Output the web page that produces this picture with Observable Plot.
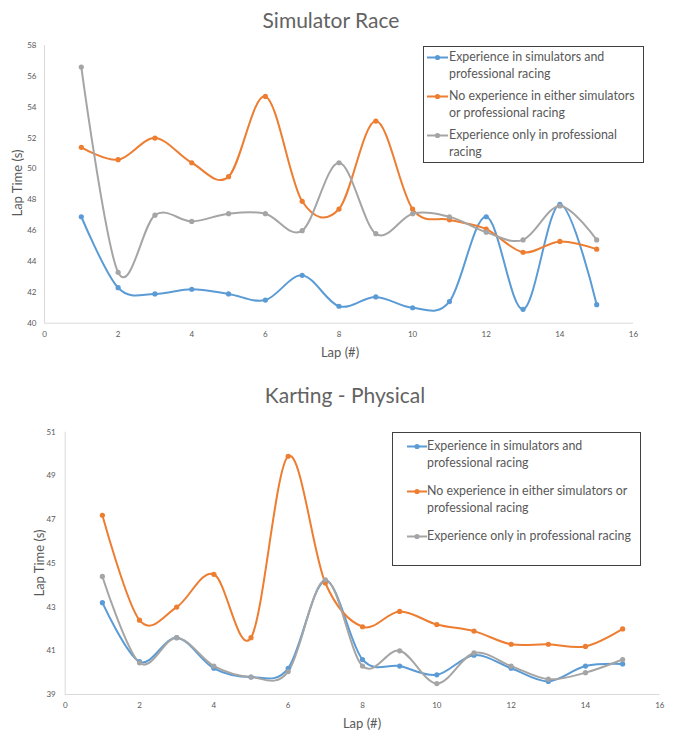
<!DOCTYPE html>
<html><head><meta charset="utf-8">
<script src="https://cdn.jsdelivr.net/npm/d3@7"></script>
<script src="https://cdn.jsdelivr.net/npm/@observablehq/plot@0.6"></script>
<style>
body{margin:0;background:#fff;font-family:Lato,"Open Sans",sans-serif;}
#root{position:relative;width:678px;height:730px;overflow:hidden;background:#fff;}
.title{position:absolute;font-size:21px;color:#636363;white-space:nowrap;transform:translateX(-50%);line-height:1;}
.alab{position:absolute;font-size:13px;color:#595959;white-space:nowrap;line-height:1;}
.ylab{transform:translate(-50%,-50%) rotate(-90deg);}
.xlab{transform:translate(-50%,-50%);}
.legend{position:absolute;border:1px solid #404040;background:#fff;box-sizing:border-box;}
.entry{position:absolute;display:flex;align-items:flex-start;}
.entry svg{flex:none;}
.entry div{font-size:12.4px;color:#595959;line-height:16.6px;white-space:nowrap;}
.plot{position:absolute;left:0;}
</style></head>
<body><div id="root"></div>
<script>
const laps = [1,2,3,4,5,6,7,8,9,10,11,12,13,14,15];
const seriesNames = [
  "Experience in simulators and professional racing",
  "No experience in either simulators or professional racing",
  "Experience only in professional racing"
];
const seriesColors = ["#5B9BD5","#ED7D31","#A5A5A5"];

// Simulator Race
const simSimPro = [46.9,42.3,41.9,42.2,41.9,41.5,43.1,41.1,41.7,41.0,41.4,46.9,40.9,47.7,41.2];
const simNone   = [51.4,50.6,52.0,50.4,49.5,54.7,47.9,47.4,53.1,47.4,46.7,46.1,44.6,45.3,44.8];
const simPro    = [56.6,43.3,47.0,46.6,47.1,47.1,46.0,50.4,45.8,47.1,46.9,45.9,45.4,47.6,45.4];

// Karting - Physical
const kartSimPro = [43.2,40.5,41.6,40.2,39.8,40.2,44.2,40.6,40.3,39.9,40.8,40.2,39.6,40.3,40.4];
const kartNone   = [47.2,42.4,43.0,44.5,41.6,49.9,44.1,42.1,42.8,42.2,41.9,41.3,41.3,41.2,42.0];
const kartPro    = [44.4,40.45,41.6,40.3,39.8,40.05,44.25,40.3,41.0,39.5,40.9,40.3,39.7,40.0,40.6];

const xTicks = [0,2,4,6,8,10,12,14,16];
const simYTicks = [40,42,44,46,48,50,52,54,56,58];
const kartYTicks = [39,41,43,45,47,49,51];

const titles = ["Simulator Race","Karting - Physical"];
const xLabel = "Lap (#)";
const yLabel = "Lap Time (s)";
const simLegendLines = [["Experience in simulators and","professional racing"],["No experience in either simulators","or professional racing"],["Experience only in professional","racing"]];
const kartLegendLines = [["Experience in simulators and","professional racing"],["No experience in either simulators or","professional racing"],["Experience only in professional racing"]];

function rowsOf(arrs){
  const out=[];
  arrs.forEach((a,si)=>a.forEach((v,i)=>out.push({lap:laps[i],time:v,series:seriesNames[si]})));
  return out;
}

function makePlot(rows, yDomain, yTicks, o){
  return Plot.plot({
    width:678, height:o.height,
    marginTop:o.mt, marginBottom:o.mb, marginLeft:o.ml, marginRight:o.mr,
    x:{domain:[0,16]}, y:{domain:yDomain},
    color:{domain:seriesNames, range:seriesColors},
    style:{fontFamily:"Lato, 'Open Sans', sans-serif", fontSize:"8px", color:"#595959", background:"white", overflow:"visible"},
    marks:[
      Plot.ruleY([yDomain[0]],{stroke:"#d9d9d9", strokeWidth:1}),
      Plot.ruleX([0],{stroke:"#d9d9d9", strokeWidth:1}),
      Plot.axisX({ticks:xTicks, tickSize:0, tickPadding:o.xpad, label:null, fill:"#595959"}),
      Plot.axisY({ticks:yTicks, tickSize:0, tickPadding:o.ypad, label:null, fill:"#595959"}),
      Plot.line(rows,{x:"lap", y:"time", z:"series", stroke:"series", curve:"cardinal", strokeWidth:2}),
      Plot.dot(rows,{x:"lap", y:"time", fill:"series", r:2.6})
    ]
  });
}

const root = document.getElementById("root");
function addDiv(cls, text, style){
  const d=document.createElement("div"); d.className=cls; d.textContent=text;
  Object.assign(d.style, style); root.appendChild(d); return d;
}

const p1 = makePlot(rowsOf([simSimPro,simNone,simPro]), [40,58], simYTicks,
  {height:335, mt:15, mb:42.3, ml:44, mr:45, xpad:8, ypad:8});
p1.classList.add("plot"); p1.style.top="30px"; root.appendChild(p1);
const p2 = makePlot(rowsOf([kartSimPro,kartNone,kartPro]), [39,51], kartYTicks,
  {height:310, mt:11.7, mb:36, ml:64.7, mr:18.7, xpad:8, ypad:9.5});
p2.classList.add("plot"); p2.style.top="420px"; root.appendChild(p2);

addDiv("title", titles[0], {left:"331px", top:"9px"});
addDiv("title", titles[1], {left:"345px", top:"384px"});
addDiv("alab ylab", yLabel, {left:"17px", top:"183px"});
addDiv("alab xlab", xLabel, {left:"340px", top:"352px"});
addDiv("alab ylab", yLabel, {left:"39px", top:"563px"});
addDiv("alab xlab", xLabel, {left:"362px", top:"723px"});

function legend(box, lines, entryTops, swX, swW, textX){
  const lg=document.createElement("div"); lg.className="legend";
  Object.assign(lg.style,{left:box[0]+"px",top:box[1]+"px",width:box[2]+"px",height:box[3]+"px"});
  root.appendChild(lg);
  lines.forEach((ls,i)=>{
    const e=document.createElement("div"); e.className="entry";
    e.style.left=swX+"px"; e.style.top=entryTops[i]+"px";
    const ns="http://www.w3.org/2000/svg";
    const s=document.createElementNS(ns,"svg"); s.setAttribute("width",textX-swX); s.setAttribute("height",16.6);
    const l=document.createElementNS(ns,"line"); l.setAttribute("x1",0); l.setAttribute("x2",swW); l.setAttribute("y1",8.5); l.setAttribute("y2",8.5);
    l.setAttribute("stroke",seriesColors[i]); l.setAttribute("stroke-width",2); s.appendChild(l);
    const c=document.createElementNS(ns,"circle"); c.setAttribute("cx",swW/2); c.setAttribute("cy",8.5); c.setAttribute("r",2.6); c.setAttribute("fill",seriesColors[i]); s.appendChild(c);
    e.appendChild(s);
    const t=document.createElement("div");
    ls.forEach((txt,k)=>{ if(k) t.appendChild(document.createElement("br")); t.appendChild(document.createTextNode(txt)); });
    e.appendChild(t);
    lg.appendChild(e);
  });
}
legend([423,46,221,117], simLegendLines, [2,41,80], 3, 21, 25);
legend([392,432,249,134], kartLegendLines, [5,50,95], 14, 20, 34);
</script></body></html>
